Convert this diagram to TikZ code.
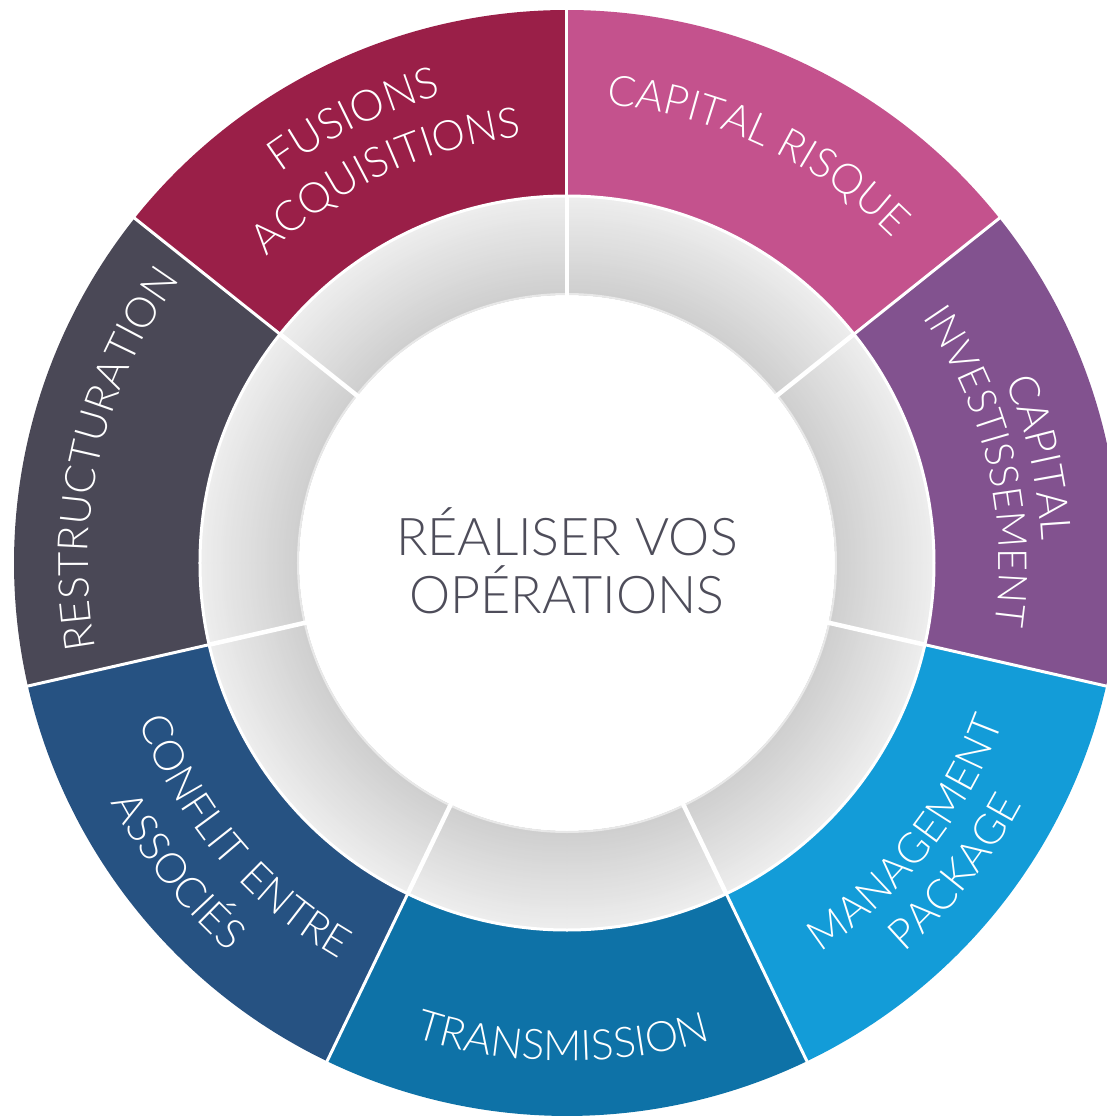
\documentclass[tikz,border=0pt]{standalone}
\usepackage{fontspec}
\setmainfont{TeX Gyre Heros}
\IfFontExistsTF{Lato Light}{\newfontfamily\thinfont{Lato Light}}{%
  \IfFontExistsTF{Fira Sans Light}{\newfontfamily\thinfont{Fira Sans Light}}{%
    \newfontfamily\thinfont{TeX Gyre Heros}}}
\usetikzlibrary{decorations.text}

\definecolor{fusions}{HTML}{9A1F48}
\definecolor{caprisque}{HTML}{C4528D}
\definecolor{capinv}{HTML}{82528F}
\definecolor{manage}{HTML}{139CD8}
\definecolor{transm}{HTML}{0E72A7}
\definecolor{conflit}{HTML}{265282}
\definecolor{restruct}{HTML}{4A4856}
\definecolor{titlegray}{HTML}{4E4D5A}

% coloured band between the grey ring and the outer edge
\newcommand{\ringsector}[3]{%
  \fill[#1] (#2:366pt) arc[start angle=#2, end angle=#3, radius=366pt]
    -- (#3:553pt) arc[start angle=#3, end angle=#2, radius=553pt] -- cycle;}
% label read clockwise, letters pointing outwards
\newcommand{\outlabel}[5]{%
  \path[decorate, decoration={text along path, text align=center, text color=white,
    text={|\thinfont\fontsize{#1}{#1}\selectfont\addfontfeatures{LetterSpace=#2}|#5}}]
    (#4+34:#3pt) arc[start angle=#4+34, end angle=#4-34, radius=#3pt];}
% label read anticlockwise, letters pointing inwards
\newcommand{\inlabel}[5]{%
  \path[decorate, decoration={text along path, text align=center, text color=white,
    text={|\thinfont\fontsize{#1}{#1}\selectfont\addfontfeatures{LetterSpace=#2}|#5}}]
    (#4-34:#3pt) arc[start angle=#4-34, end angle=#4+34, radius=#3pt];}

\begin{document}
\begin{tikzpicture}[x=1pt, y=1pt,
    bandsep/.style={white, line width=3pt},
    ringsep/.style={white, line width=4.5pt},
    title/.style={anchor=base, text=titlegray, font=\thinfont\fontsize{52}{60}\selectfont}]
  \useasboundingbox[fill=white] (-567,-557) rectangle (540,563);

  % outer coloured segments
  \foreach \col [count=\k from 0] in {fusions, restruct, conflit, transm, manage, capinv, caprisque} {
    \pgfmathsetmacro\aa{90+\k*360/7}
    \pgfmathsetmacro\ab{90+(\k+1)*360/7}
    \ringsector{\col}{\aa}{\ab}
  }

  % grey ring, lighter outside, darker inside
  \foreach \i in {0,...,48} {
    \pgfmathsetmacro\rr{366-2*\i}
    \pgfmathsetmacro\shadepct{7+12*\i/48}
    \fill[black!\shadepct] (0,0) circle[radius=\rr pt];
  }
  \fill[white] (0,0) circle[radius=268pt];
  \draw[black!9, line width=2pt] (0,0) circle[radius=269pt];
  \draw[bandsep] (0,0) circle[radius=367pt];

  % white separators
  \foreach \k in {0,...,6} {
    \pgfmathsetmacro\aa{90+\k*360/7}
    \draw[bandsep] (\aa:366pt) -- (\aa:560pt);
    \draw[ringsep] (\aa:265pt) -- (\aa:367pt);
  }

  % labels
  \outlabel{43}{2}{484}{115.6}{FUSIONS}
  \outlabel{42}{1}{429}{115.2}{ACQUISITIONS}
  \outlabel{42}{0}{479}{167}{RESTRUCTURATION}
  \inlabel{42}{6}{457}{220.2}{CONFLIT ENTRE}
  \inlabel{42}{6}{515}{218.4}{ASSOCIÉS}
  \inlabel{42}{3}{498}{269.5}{TRANSMISSION}
  \inlabel{42}{7}{464}{321.5}{MANAGEMENT}
  \inlabel{42}{7}{515}{321.5}{PACKAGE}
  \outlabel{42}{0}{475}{12.6}{CAPITAL}
  \outlabel{40}{0}{432}{13.2}{INVESTISSEMENT}
  \outlabel{42}{0}{460}{65}{CAPITAL RISQUE}

  \node[title] (title1) at (0,8) {RÉALISER VOS};
  \node[title] (title2) at (0,-50) {OPÉRATIONS};
\end{tikzpicture}
\end{document}
